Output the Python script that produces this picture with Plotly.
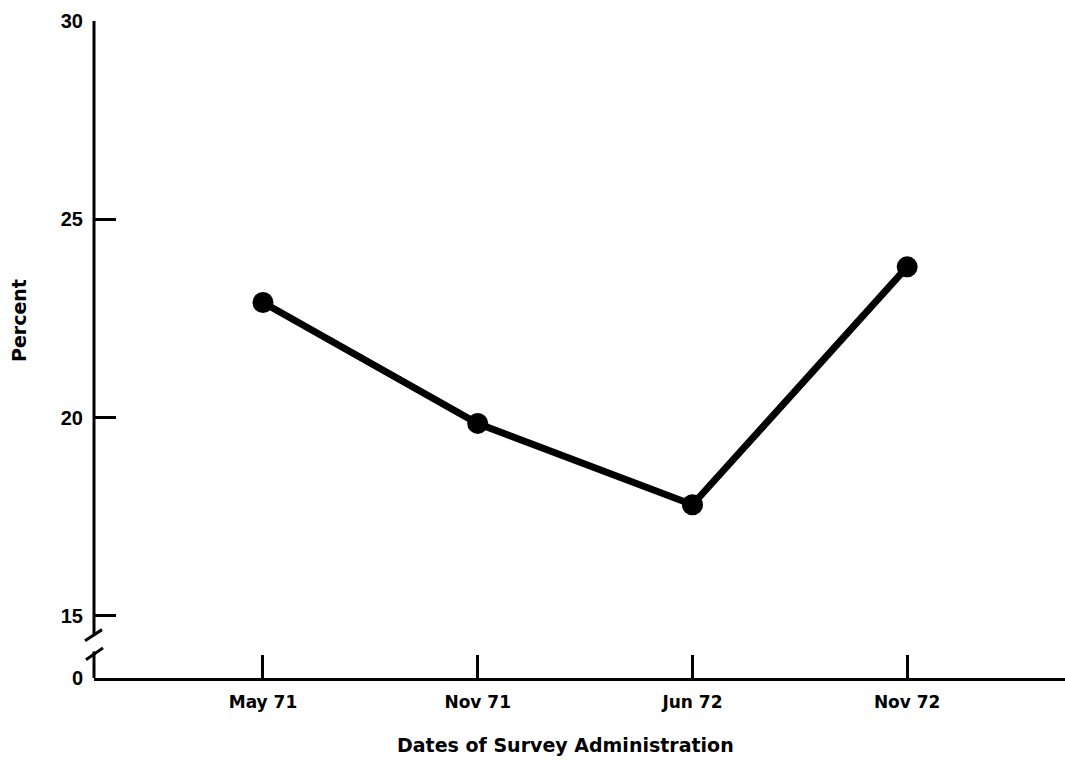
import plotly.graph_objects as go

# Data
categories = ["May 71", "Nov 71", "Jun 72", "Nov 72"]
percent = [22.9, 19.85, 17.8, 23.8]
y_tick_values = [15, 20, 25, 30]
y_tick_labels = ["15", "20", "25", "30"]

FONT = "DejaVu Sans, Liberation Sans, Arial, sans-serif"
NUM_FONT = "Liberation Sans, Arial, Helvetica, sans-serif"
BASE = 13.43  # position used to represent "0" beneath the axis break

x_pos = list(range(len(categories)))

fig = go.Figure()
fig.add_trace(go.Scatter(
    x=x_pos, y=percent, mode="lines+markers",
    line=dict(color="black", width=7),
    marker=dict(color="black", size=21),
    showlegend=False, cliponaxis=False,
))

fig.update_layout(
    width=1065, height=761,
    margin=dict(l=94, r=0, t=21, b=83),
    paper_bgcolor="white", plot_bgcolor="white",
    font=dict(family=FONT, color="black"),
    xaxis=dict(
        range=[-0.787, 3.735],
        tickvals=x_pos, ticktext=categories,
        ticks="inside", ticklen=23, tickwidth=2.5, tickcolor="black",
        showline=True, linecolor="black", linewidth=3,
        showgrid=False, zeroline=False,
        tickfont=dict(family=FONT, size=17, weight="bold"),
        ticklabelstandoff=7,
    ),
    yaxis=dict(
        range=[BASE, 30],
        tickvals=[BASE] + y_tick_values, ticktext=["0"] + y_tick_labels,
        ticks="inside", ticklen=22, tickwidth=2.5, tickcolor="black",
        showline=False, showgrid=False, zeroline=False,
        tickfont=dict(family=NUM_FONT, size=20, weight="bold"),
        ticklabelstandoff=10,
    ),
)

# Broken y-axis line (drawn in data units)
line_style = dict(color="black", width=3)
fig.add_shape(type="line", xref="paper", yref="y", x0=0, x1=0, y0=30, y1=14.5, line=line_style)
fig.add_shape(type="line", xref="paper", yref="y", x0=0, x1=0, y0=14.1, y1=BASE, line=line_style)
# break slashes
fig.add_shape(type="line", xref="paper", yref="y",
              x0=-9 / 971, x1=8 / 971, y0=14.37, y1=14.65, line=line_style)
fig.add_shape(type="line", xref="paper", yref="y",
              x0=-8 / 971, x1=9 / 971, y0=13.89, y1=14.19, line=line_style)

# Axis titles
fig.add_annotation(text="Percent", xref="paper", yref="paper",
                   x=(19 - 94) / 971, y=(678 - 321) / 657, textangle=-90,
                   xanchor="center", yanchor="middle",
                   showarrow=False, font=dict(family=FONT, size=19, weight="bold"))
fig.add_annotation(text="Dates of Survey Administration", xref="paper", yref="paper",
                   x=(565 - 94) / 971, y=-(745 - 678) / 657,
                   xanchor="center", yanchor="middle",
                   showarrow=False, font=dict(family=FONT, size=19, weight="bold"))

fig.write_html(
    "out.html",
    config={"displayModeBar": False},
    post_script="document.body.style.margin='0';document.body.style.overflow='hidden';",
)
